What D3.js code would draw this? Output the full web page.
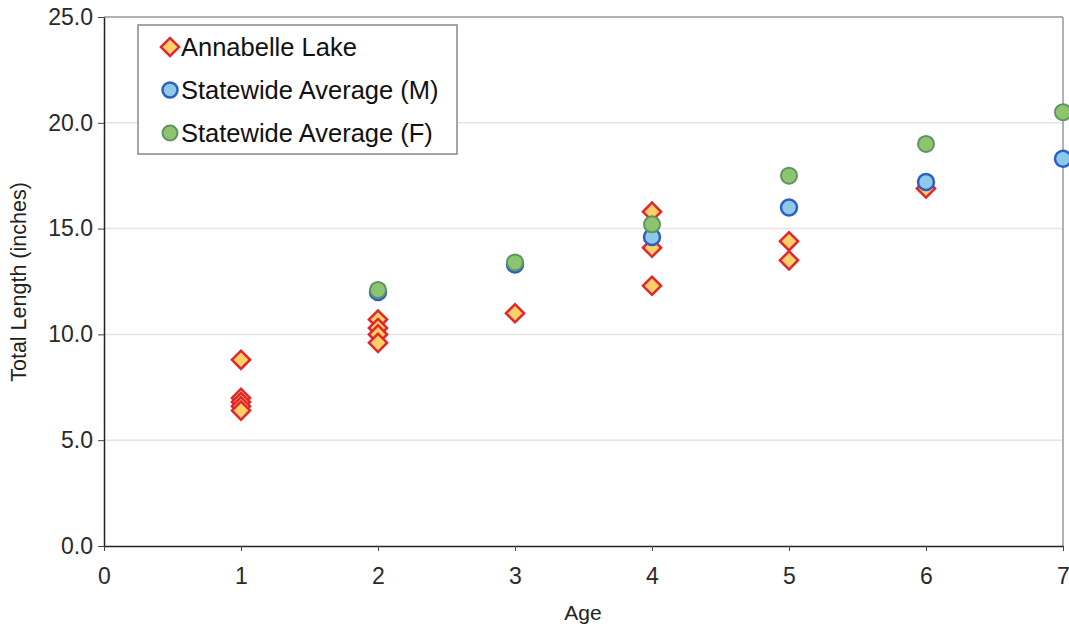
<!DOCTYPE html>
<html><head><meta charset="utf-8">
<script src="https://cdn.jsdelivr.net/npm/d3@7"></script>
<style>body{margin:0;background:#fff;} svg{display:block;font-family:"Liberation Sans",Arial,sans-serif;}</style>
</head><body>
<svg id="c" width="1069" height="630"></svg>
<script>
const lakeAges = [1,1,1,1,1, 2,2,2,2, 3, 4,4,4, 5,5, 6];
const lakeLengths = [8.8,7.0,6.8,6.6,6.4, 10.7,10.3,10.0,9.6, 11.0, 15.8,14.1,12.3, 14.4,13.5, 16.9];
const maleAges = [2,3,4,5,6,7];
const maleLengths = [12.0,13.3,14.6,16.0,17.2,18.3];
const femaleAges = [2,3,4,5,6,7];
const femaleLengths = [12.1,13.4,15.2,17.5,19.0,20.5];
const xTicks = [0,1,2,3,4,5,6,7];
const yTicks = [0,5,10,15,20,25];
const seriesNames = ["Annabelle Lake","Statewide Average (M)","Statewide Average (F)"];

const svg = d3.select("#c");
const x = d3.scaleLinear().domain([0,7]).range([104,1063]);
const y = d3.scaleLinear().domain([0,25]).range([546,17]);

// gridlines
svg.append("g").selectAll("line").data(yTicks.filter(d=>d>0 && d<25)).join("line")
  .attr("x1",104).attr("x2",1063).attr("y1",d=>y(d)).attr("y2",d=>y(d))
  .attr("stroke","#e4e4e4").attr("stroke-width",1.5);
// plot border top/right
svg.append("line").attr("x1",104).attr("x2",1063).attr("y1",y(25)).attr("y2",y(25)).attr("stroke","#999").attr("stroke-width",1.5);
svg.append("line").attr("x1",1063).attr("x2",1063).attr("y1",y(25)).attr("y2",y(0)).attr("stroke","#999").attr("stroke-width",1.5);

const yAxis = svg.append("g").attr("transform","translate(104,0)")
  .call(d3.axisLeft(y).tickValues(yTicks).tickFormat(d3.format(".1f")).tickSize(6).tickSizeOuter(0));
const xAxis = svg.append("g").attr("transform",`translate(0,${y(0)})`)
  .call(d3.axisBottom(x).tickValues(xTicks).tickFormat(d3.format("d")).tickSize(5).tickSizeOuter(0));
[yAxis,xAxis].forEach(a=>{
  a.select(".domain").attr("stroke","#222").attr("stroke-width",1.5);
  a.selectAll(".tick line").attr("stroke","#444");
  a.selectAll("text").attr("font-size",23).attr("fill","#2a2a2a").attr("font-family","Liberation Sans, Arial, sans-serif");
});
yAxis.selectAll("text").attr("x",-11);
xAxis.selectAll("text").attr("y",22);

svg.append("text").attr("x",583).attr("y",620).attr("text-anchor","middle").attr("font-size",21).attr("fill","#222").text("Age");
svg.append("text").attr("transform","translate(26,282) rotate(-90)").attr("text-anchor","middle").attr("font-size",21.5).attr("fill","#222").text("Total Length (inches)");

const diamond = d3.symbol().type(d3.symbolSquare).size(165);
function drawDiamond(g, cx, cy){
  g.append("path").attr("d",diamond()).attr("transform",`translate(${cx},${cy}) rotate(45)`)
   .attr("fill","#ffcf6a").attr("stroke","#e3262c").attr("stroke-width",2.5);
}
const maleStyle = {fill:"#8ec9ea", stroke:"#2c5fc4"};
const femaleStyle = {fill:"#8dc56f", stroke:"#5f9460"};

const gL = svg.append("g");
lakeAges.forEach((a,i)=>drawDiamond(gL, x(a), y(lakeLengths[i])));
const gM = svg.append("g");
gM.selectAll("circle").data(maleAges.map((a,i)=>[a,maleLengths[i]])).join("circle")
  .attr("cx",d=>x(d[0])).attr("cy",d=>y(d[1])).attr("r",8)
  .attr("fill",maleStyle.fill).attr("stroke",maleStyle.stroke).attr("stroke-width",2.5);
const gF = svg.append("g");
gF.selectAll("circle").data(femaleAges.map((a,i)=>[a,femaleLengths[i]])).join("circle")
  .attr("cx",d=>x(d[0])).attr("cy",d=>y(d[1])).attr("r",8)
  .attr("fill",femaleStyle.fill).attr("stroke",femaleStyle.stroke).attr("stroke-width",2);

// legend
const lg = svg.append("g");
lg.append("rect").attr("x",138).attr("y",25).attr("width",319).attr("height",129)
  .attr("fill","#fff").attr("stroke","#888").attr("stroke-width",1.5);
const ly = [47,90,133];
drawDiamond(lg,170,ly[0]);
lg.append("circle").attr("cx",170).attr("cy",ly[1]).attr("r",7.5).attr("fill",maleStyle.fill).attr("stroke",maleStyle.stroke).attr("stroke-width",2.5);
lg.append("circle").attr("cx",170).attr("cy",ly[2]).attr("r",7.5).attr("fill",femaleStyle.fill).attr("stroke",femaleStyle.stroke).attr("stroke-width",2);
lg.selectAll("text.l").data(seriesNames).join("text").attr("class","l")
  .attr("x",181).attr("y",(d,i)=>ly[i]+9).attr("font-size",25.5).attr("fill","#111").text(d=>d);
</script>
</body></html>
